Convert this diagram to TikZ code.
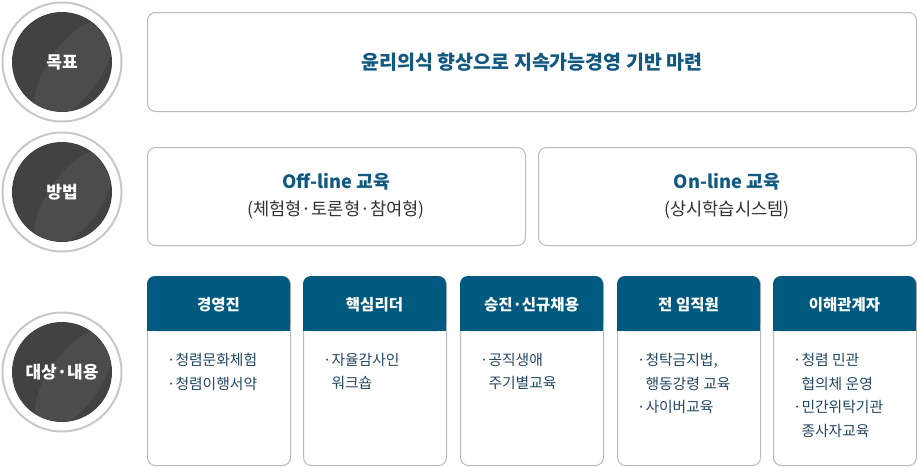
\documentclass[tikz,border=0pt]{standalone}
\usepackage{fontspec}
\setmainfont{Noto Sans CJK KR}
\definecolor{hdr}{RGB}{0,89,126}
\definecolor{tblue}{RGB}{18,88,128}
\definecolor{bodyc}{RGB}{35,72,100}
\definecolor{subc}{RGB}{51,51,51}
\definecolor{boxgray}{RGB}{185,185,185}
\definecolor{ringgray}{RGB}{200,200,200}
\definecolor{darkc}{RGB}{66,66,66}
\definecolor{lightc}{RGB}{76,76,76}
\begin{document}
\begin{tikzpicture}[x=1pt,y=-1pt,
  box/.style={draw=boxgray, line width=1pt, rounded corners=8pt, fill=white, inner sep=0pt},
  ring/.style={circle, draw=ringgray, line width=2pt, fill=white, minimum size=119pt, inner sep=0pt},
  disc/.style={circle, fill=darkc, minimum size=100pt, inner sep=0pt},
  disctext/.style={text=white, font=\fontsize{17}{20}\selectfont\bfseries, inner sep=0pt},
  goaltext/.style={text=tblue, font=\fontsize{19.5}{22}\selectfont\bfseries, inner sep=0pt},
  mtitle/.style={text=tblue, font=\fontsize{18.3}{20}\selectfont\bfseries, inner sep=0pt},
  msub/.style={text=subc, font=\fontsize{17.6}{20}\selectfont, inner sep=0pt},
  htext/.style={text=white, font=\fontsize{15.5}{18}\selectfont\bfseries, inner sep=0pt},
  btext/.style={text=bodyc, font=\fontsize{14.8}{23.5}\selectfont, align=left, anchor=north west, inner sep=0pt},
]
\useasboundingbox (0,0) rectangle (917,466);

% circles
\foreach \cy/\nm/\lab in {62/g/목표, 192/m/방법, 372/t/대상·내용}{
  \node[ring] (ring\nm) at (62,\cy) {};
  \node[disc] (disc\nm) at (62,\cy) {};
  \begin{scope}
    \clip (62,\cy) circle (49.5);
    \fill[lightc, rotate around={-35:(74,\cy+8)}] (74,\cy+8) ellipse (26 and 58);
    \fill[darkc, rotate around={-35:(40,\cy-30)}] (40,\cy-30) ellipse (16 and 40);
  \end{scope}
  \node[disctext] (lab\nm) at (62,\cy) {\lab};
}

% goal box
\node[box, anchor=north west, minimum width=769pt, minimum height=99pt] (goal) at (147,12) {};
\node[goaltext] (goalt) at (goal.center) {윤리의식 향상으로 지속가능경영 기반 마련};

% method boxes
\node[box, anchor=north west, minimum width=378pt, minimum height=98pt] (off) at (147,147) {};
\node[box, anchor=north west, minimum width=378pt, minimum height=98pt] (on) at (538,147) {};
\node[mtitle] (offt) at (336,182) {Off-line 교육};
\node[msub] (offs) at (336,210) {(체험형·토론형·참여형)};
\node[mtitle] (ont) at (727,182) {On-line 교육};
\node[msub] (ons) at (727,210) {(상시학습시스템)};

% target cards
\foreach \x/\nm/\h in {147/a/경영진, 303/b/핵심리더, 460/c/승진·신규채용, 617/d/전 임직원, 773/e/이해관계자}{
  \node[box, anchor=north west, minimum width=143pt, minimum height=189pt] (card\nm) at (\x,276) {};
  \fill[hdr, rounded corners=8pt] (\x,276) rectangle (\x+143,331);
  \fill[hdr] (\x,300) rectangle (\x+143,331);
  \node[htext] (head\nm) at (\x+71.5,305) {\h};
}
\node[btext] (bodya) at (167,353) {·청렴문화체험\\·청렴이행서약};
\node[btext] (bodyb) at (323,353) {·자율감사인\\\phantom{·}워크숍};
\node[btext] (bodyc) at (480,353) {·공직생애\\\phantom{·}주기별교육};
\node[btext] (bodyd) at (637,353) {·청탁금지법,\\\phantom{·}행동강령 교육\\·사이버교육};
\node[btext] (bodye) at (793,353) {·청렴 민관\\\phantom{·}협의체 운영\\·민간위탁기관\\\phantom{·}종사자교육};
\end{tikzpicture}
\end{document}
